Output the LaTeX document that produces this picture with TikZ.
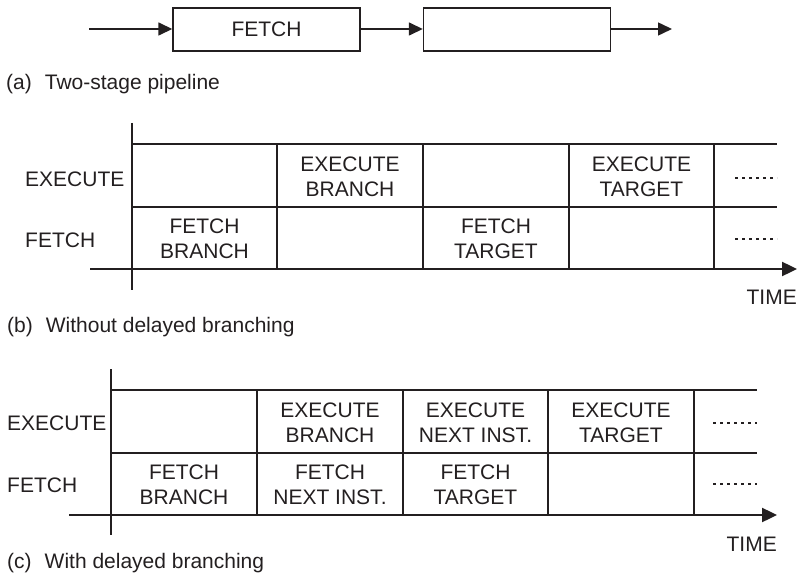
\documentclass[tikz,border=0pt]{standalone}
\usepackage{fontspec}
\setmainfont{Liberation Sans}
\usetikzlibrary{arrows.meta}
\definecolor{ink}{HTML}{231F20}
\begin{document}
\begin{tikzpicture}[x=1pt,y=-1pt,
  every node/.style={text=ink,font={\fontsize{21}{25.5}\selectfont},inner sep=0pt},
  tip/.style={-{Triangle[length=14pt,width=13pt]}},
  bigtip/.style={-{Triangle[length=15pt,width=14pt]}},
  stagebox/.style={draw=ink,line width=1.4pt,minimum width=187pt,minimum height=43pt},
  grid/.style={draw=ink,line width=1.3pt},
  axis/.style={draw=ink,line width=2.4pt},
  cell/.style={align=center},
  dots/.style={draw=ink,line width=2.2pt,dash pattern=on 3.4pt off 3.6pt},
  rowlabel/.style={anchor=west},
  caption/.style={anchor=west}]
\useasboundingbox (0,0) rectangle (800,577);

% (a) two-stage pipeline
\coordinate (ain) at (89,29);
\node[stagebox] (box1) at (266.5,29.5) {FETCH};
\node[stagebox] (box2) at (517,29.5) {};
\coordinate (aout) at (672,29);
\draw[ink,line width=1.5pt,tip] (ain) -- (box1.west |- ain);
\draw[ink,line width=1.5pt,tip] (box1.east |- ain) -- (box2.west |- ain);
\draw[ink,line width=1.5pt,tip] (box2.east |- ain) -- (aout);
\node[caption] (capa) at (6,84) {(a)\hspace{13pt}Two-stage pipeline};

% (b) without delayed branching
\coordinate (bv0) at (132,123);
\coordinate (bv1) at (132,290);
\coordinate (bh0) at (90,269);
\coordinate (bh1) at (797,269);
\draw[grid] (132,144) -- (777,144);
\draw[grid] (132,207) -- (777,207);
\foreach \x in {277,423,569,714} \draw[grid] (\x,144) -- (\x,269);
\draw[axis] (bv0) -- (bv1);
\draw[axis,bigtip] (bh0) -- (bh1);
\node[rowlabel] (bexl) at (25,179) {EXECUTE};
\node[rowlabel] (bfel) at (25,240) {FETCH};
\node[cell] (bc12) at (350,177) {EXECUTE\\BRANCH};
\node[cell] (bc14) at (641.5,177) {EXECUTE\\TARGET};
\node[cell] (bc21) at (204.5,239) {FETCH\\BRANCH};
\node[cell] (bc23) at (496,239) {FETCH\\TARGET};
\draw[dots] (735,178) -- (777,178);
\draw[dots] (735,239) -- (777,239);
\node[anchor=east] (btime) at (797,297) {TIME};
\node[caption] (capb) at (7,327) {(b)\hspace{13pt}Without delayed branching};

% (c) with delayed branching
\coordinate (cv0) at (111,369);
\coordinate (cv1) at (111,535);
\coordinate (ch0) at (69,515);
\coordinate (ch1) at (777,515);
\draw[grid] (111,390) -- (757,390);
\draw[grid] (111,453) -- (757,453);
\foreach \x in {257,403,548,694} \draw[grid] (\x,390) -- (\x,515);
\draw[axis] (cv0) -- (cv1);
\draw[axis,bigtip] (ch0) -- (ch1);
\node[rowlabel] (cexl) at (7,423) {EXECUTE};
\node[rowlabel] (cfel) at (7,485) {FETCH};
\node[cell] (cc12) at (330,423) {EXECUTE\\BRANCH};
\node[cell] (cc13) at (475.5,423) {EXECUTE\\NEXT INST.};
\node[cell] (cc14) at (621,423) {EXECUTE\\TARGET};
\node[cell] (cc21) at (184,485) {FETCH\\BRANCH};
\node[cell] (cc22) at (330,485) {FETCH\\NEXT INST.};
\node[cell] (cc23) at (475.5,485) {FETCH\\TARGET};
\draw[dots] (713,423) -- (757,423);
\draw[dots] (713,484) -- (757,484);
\node[anchor=east] (ctime) at (777,544) {TIME};
\node[caption] (capc) at (7,563) {(c)\hspace{13pt}With delayed branching};
\end{tikzpicture}
\end{document}
